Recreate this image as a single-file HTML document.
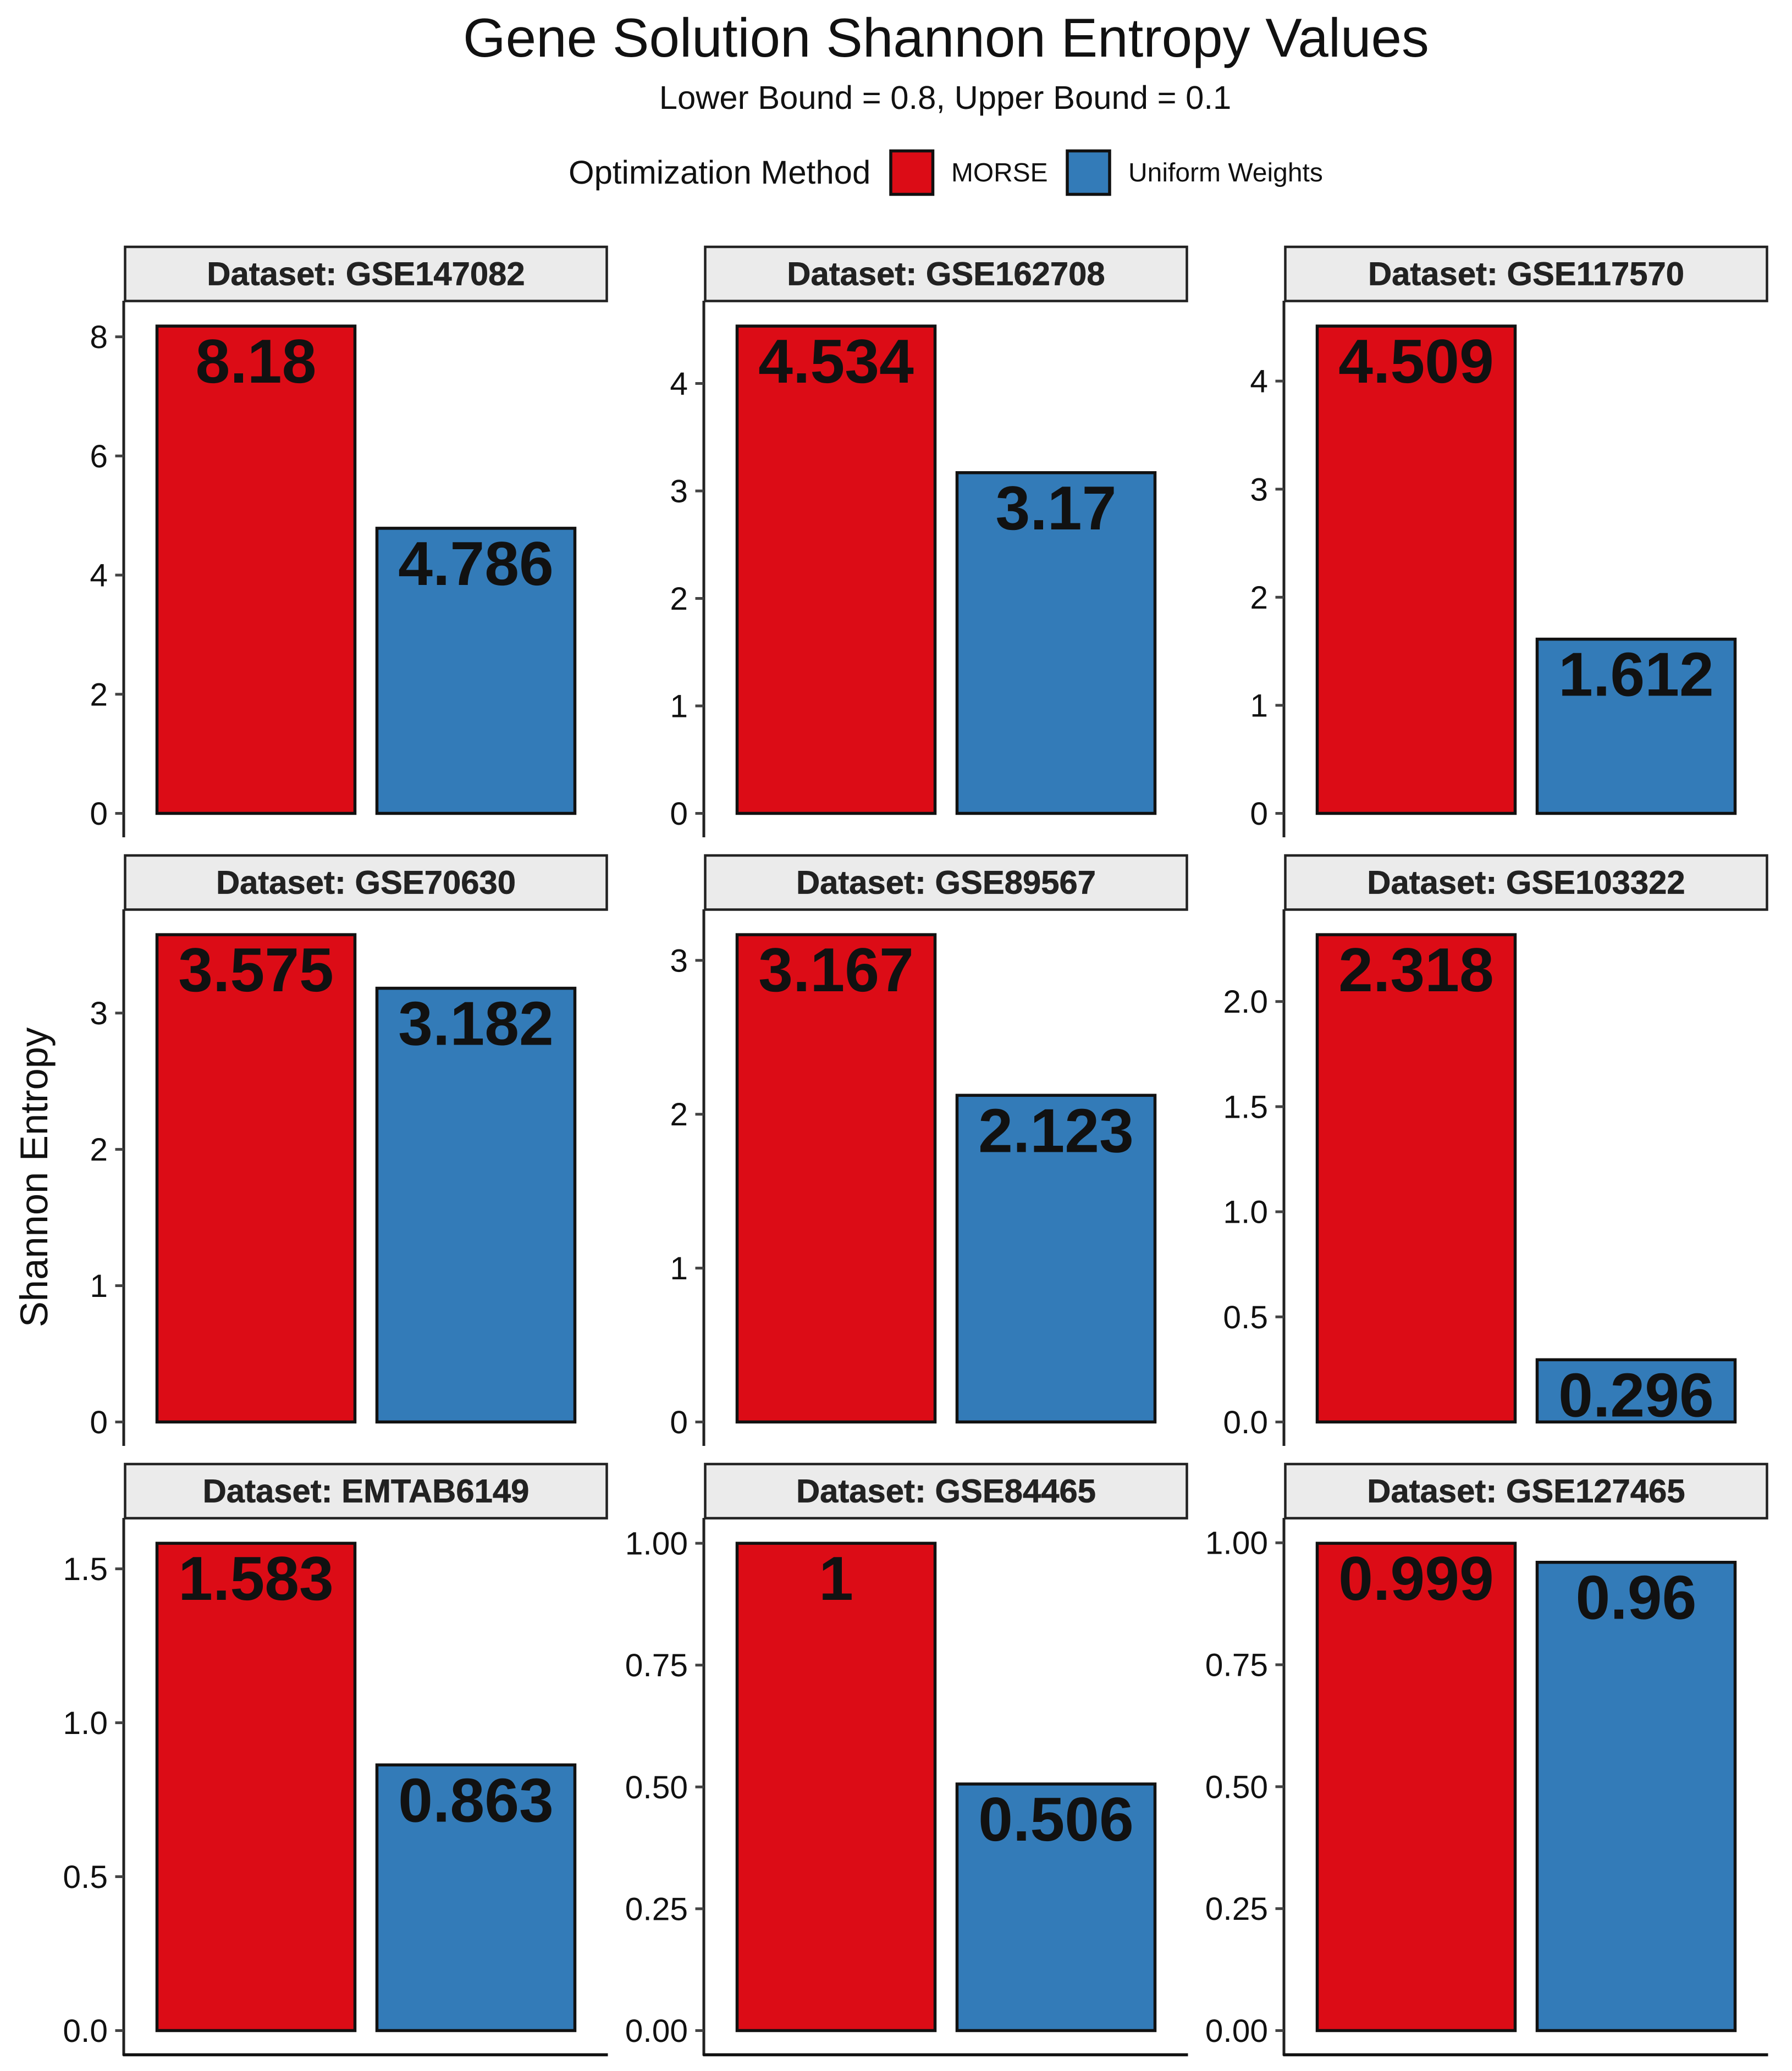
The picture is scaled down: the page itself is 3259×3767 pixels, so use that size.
<!DOCTYPE html>
<html lang="en">
<head>
<meta charset="utf-8">
<title>Gene Solution Shannon Entropy Values</title>
<style>
html,body{margin:0;padding:0;background:#fff;}
svg{display:block;}
text{font-family:"Liberation Sans",Arial,sans-serif;text-rendering:geometricPrecision;}
</style>
</head>
<body>
<svg id="chart" xmlns="http://www.w3.org/2000/svg" width="3259" height="3767" viewBox="0 0 3259 3767">
  <rect x="0" y="0" width="3259" height="3767" fill="#ffffff"/>
  <text x="1720.5" y="103" font-size="99.8" fill="#111" text-anchor="middle">Gene Solution Shannon Entropy Values</text>
  <text x="1719" y="198" font-size="59.8" fill="#111" text-anchor="middle">Lower Bound = 0.8, Upper Bound = 0.1</text>
  <g>
    <text x="1034" y="334" font-size="59.9" fill="#111">Optimization Method</text>
    <rect x="1620" y="274.5" width="76.5" height="79" fill="#DC0C16" stroke="#111" stroke-width="5.5"/>
    <text x="1730" y="330" font-size="47.9" fill="#111">MORSE</text>
    <rect x="1941" y="274.5" width="77" height="79" fill="#337BB8" stroke="#111" stroke-width="5.5"/>
    <text x="2052" y="330" font-size="48" fill="#111">Uniform Weights</text>
  </g>
  <text transform="translate(86,2141.5) rotate(-90)" font-size="70.6" fill="#111" text-anchor="middle">Shannon Entropy</text>
  <g id="panels"></g>
</svg>
<script>
const datasets = ['GSE147082', 'GSE162708', 'GSE117570', 'GSE70630', 'GSE89567', 'GSE103322', 'EMTAB6149', 'GSE84465', 'GSE127465'];
const methods = ['MORSE', 'Uniform Weights'];
const morseValues = [8.18, 4.534, 4.509, 3.575, 3.167, 2.318, 1.583, 1, 0.999];
const uniformValues = [4.786, 3.17, 1.612, 3.182, 2.123, 0.296, 0.863, 0.506, 0.96];
const tickLabels = [
  ['0', '2', '4', '6', '8'],
  ['0', '1', '2', '3', '4'],
  ['0', '1', '2', '3', '4'],
  ['0', '1', '2', '3'],
  ['0', '1', '2', '3'],
  ['0.0', '0.5', '1.0', '1.5', '2.0'],
  ['0.0', '0.5', '1.0', '1.5'],
  ['0.00', '0.25', '0.50', '0.75', '1.00'],
  ['0.00', '0.25', '0.50', '0.75', '1.00']
];

const NS = 'http://www.w3.org/2000/svg';
const root = document.getElementById('panels');
const COLORS = ['#DC0C16', '#337BB8'];
const PANEL_W = 880, PANEL_H = 975, COL_PITCH = 1055, ROW_PITCH = 1107;
const LEFT0 = 225.5, TOP0 = 548, Y_NUDGE = 0.8;

function make(tag, attrs, parent) {
  const el = document.createElementNS(NS, tag);
  for (const k in attrs) el.setAttribute(k, attrs[k]);
  parent.appendChild(el);
  return el;
}
function xScale(left, catIndex) {
  return left + PANEL_W * (catIndex + 0.6) / 2.2;
}
function yScale(top, maxValue, v) {
  const lo = -0.05 * maxValue, hi = 1.05 * maxValue;
  return top + Y_NUDGE + PANEL_H * (hi - v) / (hi - lo);
}

datasets.forEach(function (name, i) {
  const col = i % 3, row = Math.floor(i / 3);
  const left = LEFT0 + col * COL_PITCH;
  const top = TOP0 + row * ROW_PITCH;
  const values = [morseValues[i], uniformValues[i]];
  const maxValue = Math.max(values[0], values[1], 1e-9);

  const g = make('g', {}, root);
  
  

  const strip = make('rect', { x: left + 2, y: top - 99, width: PANEL_W - 4, height: 98.5, fill: '#EBEBEB', stroke: '#222', 'stroke-width': 4.5 }, g);
  
  

  const stripText = make('text', { x: left + PANEL_W / 2, y: top - 29.5, 'font-size': 59.8, 'font-weight': 'bold', fill: '#222', stroke: '#222', 'stroke-width': 0.7, 'text-anchor': 'middle' }, g);
  stripText.textContent = 'Dataset: ' + name;
  
  

  const axisY = make('line', { x1: left - 0.5, x2: left - 0.5, y1: top - 1, y2: top + PANEL_H + (row === 2 ? 2 : 0), stroke: '#222', 'stroke-width': 5 }, g);
  
  

  if (row === 2) {
    const axisX = make('line', { x1: left - 2, x2: left + PANEL_W, y1: top + PANEL_H + 0.5, y2: top + PANEL_H + 0.5, stroke: '#111', 'stroke-width': 5.5 }, g);
    
    
  }

  tickLabels[i].forEach(function (label) {
    const y = yScale(top, maxValue, Number(label));
    const tick = make('line', { x1: left - 16, x2: left - 1, y1: y, y2: y, stroke: '#444', 'stroke-width': 5 }, g);
    
    
    const t = make('text', { x: left - 29.5, y: y + 20.5, 'font-size': 58.7, fill: '#111', 'text-anchor': 'end' }, g);
    t.textContent = label;
    
    
  });

  values.forEach(function (v, c) {
    const cx = xScale(left, c);
    const halfW = PANEL_W * 0.45 / 2.2;
    const yTop = yScale(top, maxValue, v);
    const yZero = yScale(top, maxValue, 0);
    const bar = make('rect', { x: cx - halfW, y: yTop, width: 2 * halfW, height: yZero - yTop, fill: COLORS[c], stroke: '#111', 'stroke-width': 5.5 }, g);
    
    
    const lbl = make('text', { x: cx, y: yTop + 103, 'font-size': 113, 'font-weight': 'bold', fill: '#111', 'text-anchor': 'middle' }, g);
    lbl.textContent = String(v);
    
    
  });
});
</script>
</body>
</html>
